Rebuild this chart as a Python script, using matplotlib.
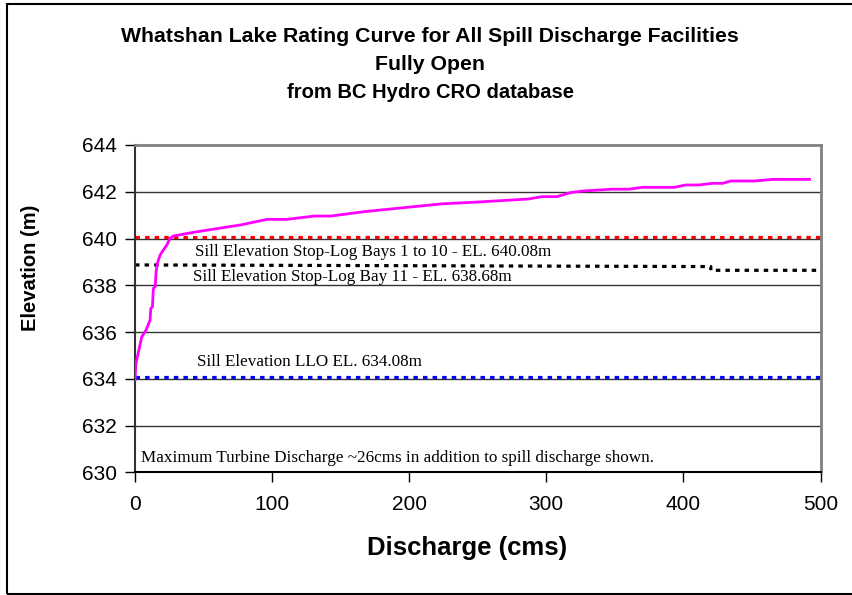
import matplotlib.pyplot as plt
from matplotlib.patches import Rectangle

# rating curve
discharge = [0, 0.7, 4.9, 8.1, 11.0, 11.5, 12.7, 13.4, 14.7, 15.4, 16.3, 18.3, 20.7,
             23.2, 25.6, 28.1, 45.2, 76.9, 96.4, 111, 130.6, 142.9, 167.3, 223.4,
             252.7, 286.9, 296.7, 307.7, 317.5, 326, 348, 360.2, 370, 393.5, 401.7,
             411.4, 421.2, 428.6, 434.6, 451.7, 465.2, 492]
elevation = [633.95, 634.66, 635.79, 636.09, 636.51, 637.01, 637.08, 637.87, 637.94,
             638.58, 638.94, 639.29, 639.51, 639.72, 640.01, 640.11, 640.29, 640.58,
             640.82, 640.82, 640.96, 640.96, 641.15, 641.48, 641.57, 641.69, 641.79,
             641.79, 641.96, 642.03, 642.11, 642.11, 642.19, 642.19, 642.29, 642.29,
             642.36, 642.36, 642.46, 642.46, 642.53, 642.53]

# sill elevations
bays_q = [0, 500]
bays_el = [640.08, 640.08]
bay11_q = [0, 420, 420, 500]
bay11_el = [638.87, 638.80, 638.64, 638.64]
llo_q = [0, 500]
llo_el = [634.08, 634.08]

x_ticks = [0, 100, 200, 300, 400, 500]
y_ticks = [630, 632, 634, 636, 638, 640, 642, 644]

fig = plt.figure(figsize=(8.52, 5.95), dpi=100)
ax = fig.add_axes([135 / 852, 1 - 472.3 / 595, 685.5 / 852, 327.3 / 595])

for y in y_ticks[1:-1]:
    ax.axhline(y, color='#333333', lw=1, zorder=1)

dot = dict(lw=2.3, linestyle=(0, (1.4, 1.6)), zorder=2)
ax.plot(bays_q, bays_el, color='#ff0000', **dot)
ax.plot(bay11_q, bay11_el, color='black', **dot)
ax.plot(llo_q, llo_el, color='#0000ff', **dot)

ax.plot(discharge, elevation, color='#ff00ff', lw=2, zorder=3)

serif = dict(family='Liberation Serif', fontsize=12.3, va='center', ha='left')
ax.text(44, 639.44, 'Sill Elevation Stop-Log Bays 1 to 10 - EL. 640.08m', **serif)
ax.text(42.5, 638.37, 'Sill Elevation Stop-Log Bay 11 - EL. 638.68m', **serif)
ax.text(45.2, 634.72, 'Sill Elevation LLO EL. 634.08m', **serif)
ax.text(4.4, 630.62, 'Maximum Turbine Discharge ~26cms in addition to spill discharge shown.', **serif)

ax.set_xlim(0, 500)
ax.set_ylim(630, 644)
ax.set_xticks(x_ticks)
ax.set_yticks(y_ticks)
ax.tick_params(labelsize=15, length=7, width=1, colors='black')
ax.tick_params(axis='y', pad=6)
ax.tick_params(axis='x', pad=9)
for lbl in ax.get_xticklabels() + ax.get_yticklabels():
    lbl.set_family('Liberation Sans')

ax.spines['top'].set_color('#808080')
ax.spines['top'].set_linewidth(2)
ax.spines['right'].set_color('#808080')
ax.spines['right'].set_linewidth(2)
ax.spines['left'].set_color('#333333')
ax.spines['left'].set_linewidth(1.5)
ax.spines['bottom'].set_color('black')
ax.spines['bottom'].set_linewidth(1.5)

ax.set_xlabel('Discharge (cms)', family='Liberation Sans', fontsize=18.5,
              fontweight='bold', va='center', ha='center')
ax.xaxis.set_label_coords(0.484, -0.231)
ax.set_ylabel('Elevation (m)', family='Liberation Sans', fontsize=14.5,
              fontweight='bold', va='center', ha='center')
ax.yaxis.set_label_coords(-0.153, 0.624)

fig.text(0.505, 1 - 37 / 595, 'Whatshan Lake Rating Curve for All Spill Discharge Facilities',
         family='Liberation Sans', fontsize=15.3, fontweight='bold', ha='center', va='center')
fig.text(0.505, 1 - 65 / 595, 'Fully Open',
         family='Liberation Sans', fontsize=15.3, fontweight='bold', ha='center', va='center')
fig.text(0.505, 1 - 93 / 595, 'from BC Hydro CRO database',
         family='Liberation Sans', fontsize=14.5, fontweight='bold', ha='center', va='center')

# outer chart border
fig.patches.append(Rectangle((7 / 852, 1 / 595), 1.0, 590 / 595, transform=fig.transFigure,
                             fill=False, edgecolor='black', lw=1.5, clip_on=False))

fig.savefig('out.png', dpi=100)
